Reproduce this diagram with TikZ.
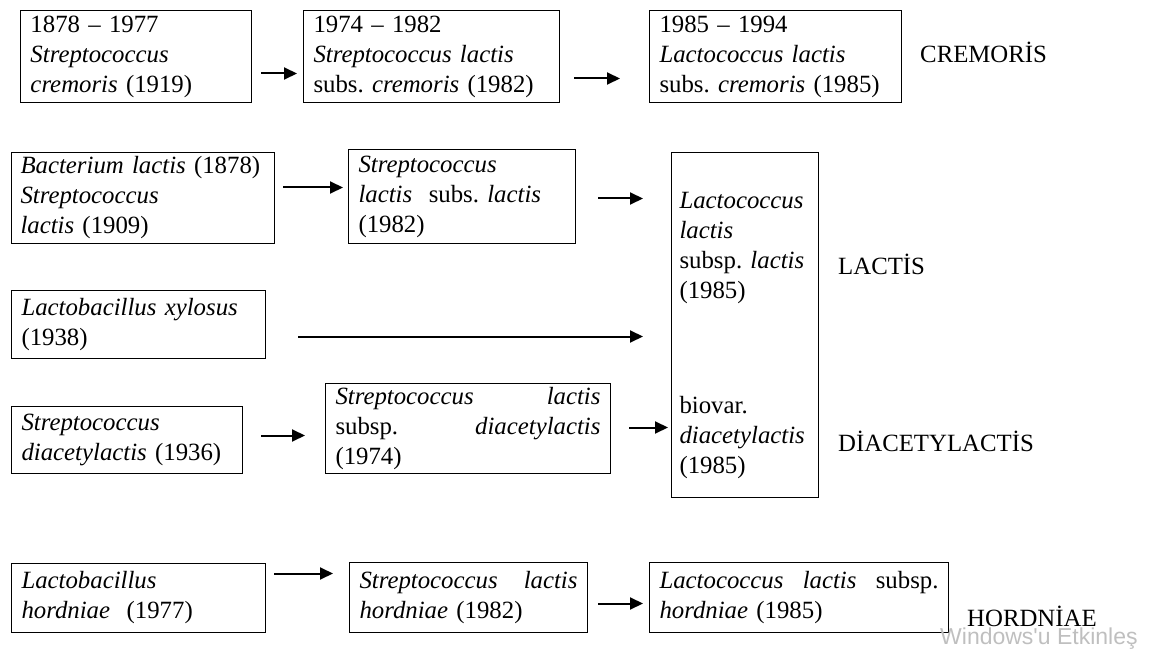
\documentclass[tikz,border=0pt]{standalone}
\usepackage{fontspec}
\setmainfont{Liberation Serif}
\newfontfamily\wmfont{Liberation Sans}
\usetikzlibrary{calc, arrows.meta}
\tikzset{
	box/.style={draw, line width=1pt, anchor=north west, align=left, inner xsep=10pt, inner ysep=0pt},
	arr/.style={-{Triangle[length=13pt,width=12pt]}, line width=2pt},
	lbl/.style={anchor=west, inner sep=0pt},
}

\begin{document}
\frenchspacing
\begin{tikzpicture}[x=1pt, y=-1pt, font=\fontsize{24.8}{30}\selectfont]
		\useasboundingbox (0,0) rectangle (1168,650);

		\node[box, text width=211pt, minimum height=92pt] (crem1) at (20,10) {1878 -- 1977\\ \textit{Streptococcus}\\ \textit{cremoris} (1919)};
		\node[box, text width=236pt, minimum height=92pt] (crem2) at (303,10) {1974 -- 1982\\ \textit{Streptococcus lactis}\\ subs. \textit{cremoris} (1982)};
		\node[box, text width=232pt, minimum height=92pt] (crem3) at (649,10) {1985 -- 1994\\ \textit{Lactococcus lactis}\\ subs. \textit{cremoris} (1985)};

		\node[box, text width=245pt, inner xsep=9pt, minimum height=91pt] (lac1) at (11,152) {\textit{Bacterium lactis} (1878)\\ \textit{Streptococcus}\\ \textit{lactis} (1909)};
		\node[box, text width=207pt, minimum height=94pt] (lac2) at (348,149) {\textit{Streptococcus}\\ \textit{lactis}\ \ subs. \textit{lactis}\\ (1982)};
		\node[box, text width=131pt, inner xsep=8pt, minimum height=345pt] (lac3) at (671,152) {\rule{0pt}{38pt}\textit{Lactococcus}\\ \textit{lactis}\\ subsp. \textit{lactis}\\ (1985)\\[85pt] biovar.\\ \textit{diacetylactis}\\ (1985)};

		\node[box, text width=234pt, minimum height=68pt] (xyl) at (11,290) {\textit{Lactobacillus xylosus}\\ (1938)};

		\node[box, text width=211pt, minimum height=67pt] (dia1) at (11,406) {\textit{Streptococcus}\\ \textit{diacetylactis} (1936)};
		\node[box, text width=265pt, minimum height=90pt] (dia2) at (325,383) {\textit{Streptococcus}\hfill\textit{lactis}\\ subsp.\hfill\textit{diacetylactis}\\ (1974)};

		\node[box, text width=234pt, minimum height=69pt] (hor1) at (11,563) {\textit{Lactobacillus}\\ \textit{hordniae}\ \ (1977)};
		\node[box, text width=218pt, minimum height=70pt] (hor2) at (349,562) {\textit{Streptococcus}\hfill\textit{lactis}\\ \textit{hordniae} (1982)};
		\node[box, text width=279pt, minimum height=70pt] (hor3) at (649,562) {\textit{Lactococcus}\hfill\textit{lactis}\hfill subsp.\\ \textit{hordniae} (1985)};

		\draw[arr] ($(crem1.east)+(9,17)$) -- ($(crem2.west)+(-6,17)$);
		\draw[arr] ($(crem2.east)+(14,22)$) -- ($(crem3.west)+(-29,22)$);
		\draw[arr] ($(lac1.east)+(8,-10.5)$) -- ($(lac2.west)+(-5,-9)$);
		\draw[arr] ($(lac2.east)+(22,2)$) -- ($(lac3.west)+(-28,-126.5)$);
		\draw[arr] ($(xyl.east)+(32,12)$) -- ($(lac3.west)+(-28,11.5)$);
		\draw[arr] ($(dia1.east)+(18,-4.5)$) -- ($(dia2.west)+(-20,7)$);
		\draw[arr] ($(dia2.east)+(18,-1)$) -- ($(lac3.west)+(-3,102.5)$);
		\draw[arr] ($(hor1.east)+(8,-24.5)$) -- ($(hor2.west)+(-16,-24)$);
		\draw[arr] ($(hor2.east)+(10,6)$) -- ($(hor3.west)+(-6,6)$);

		\node[lbl] (cremlbl) at (920,52) {CREMORİS};
		\node[lbl] (laclbl) at (838,264) {LACTİS};
		\node[lbl] (dialbl) at (838,441) {DİACETYLACTİS};
		\node[lbl] (horlbl) at (967,616) {HORDNİAE};

		\node[lbl, text=gray!50, font=\wmfont\fontsize{23}{25}\selectfont] (wm) at (940,639) {Windows'u Etkinleş};
	\end{tikzpicture}
\end{document}
